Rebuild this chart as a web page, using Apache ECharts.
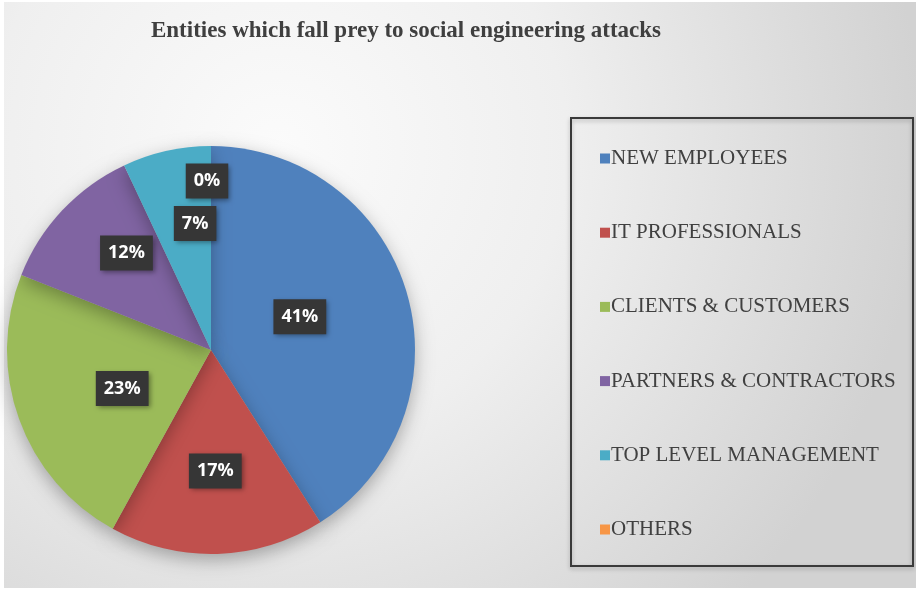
<!DOCTYPE html>
<html>
<head>
<meta charset="utf-8">
<script src="https://cdn.jsdelivr.net/npm/echarts@6/dist/echarts.min.js"></script>
<style>
html,body{margin:0;padding:0;background:#ffffff;}
#chart{width:916px;height:598px;}
</style>
</head>
<body>
<div id="chart"></div>
<script>
const titleText = 'Entities which fall prey to social engineering attacks';
const categories = ['NEW EMPLOYEES', 'IT PROFESSIONALS', 'CLIENTS & CUSTOMERS', 'PARTNERS & CONTRACTORS', 'TOP LEVEL MANAGEMENT', 'OTHERS'];
const values = [41, 17, 23, 12, 7, 0];
const colors = ['#4F81BD', '#C0504D', '#9BBB59', '#8064A2', '#4BACC6', '#F79646'];
// label nudges (layout only)
const labelOffsets = [[-12, -4], [1, 16], [10, 3], [-8, -25], [7, -24], [-4, -64]];

const chart = echarts.init(document.getElementById('chart'), null, {renderer: 'canvas'});
const option = {
  backgroundColor: '#ffffff',
  animation: false,
  graphic: [
    {
      type: 'rect', z: -10, silent: true,
      shape: {x: 4, y: 2, width: 912, height: 586},
      style: {
        fill: {
          type: 'radial', x: 0.3, y: 0.25, r: 1.1,
          colorStops: [{offset: 0, color: '#fbfbfb'}, {offset: 0.45, color: '#efefef'}, {offset: 1, color: '#d2d2d2'}]
        }
      }
    },
    {
      type: 'rect', z: 1, silent: true,
      shape: {x: 571, y: 118, width: 342, height: 448},
      style: {fill: 'transparent', stroke: '#3a3a3a', lineWidth: 2,
        shadowBlur: 4, shadowColor: 'rgba(0,0,0,0.25)', shadowOffsetY: 2}
    }
  ],
  title: {
    text: titleText,
    left: 401, top: 15, textAlign: 'center',
    textStyle: {fontFamily: 'Liberation Serif', fontWeight: 'bold', fontSize: 23, color: '#3f3f3f'}
  },
  legend: {
    orient: 'vertical',
    left: 595, top: 143,
    itemWidth: 10, itemHeight: 10, itemGap: 53.2,
    icon: 'rect',
    data: categories,
    textStyle: {fontFamily: 'Liberation Serif', fontSize: 21, color: '#404040', lineHeight: 20, padding: [0, 0, 0, -4]}
  },
  series: [{
    type: 'pie',
    center: [211, 350],
    radius: 204,
    startAngle: 90,
    clockwise: true,
    avoidLabelOverlap: false,
    stillShowZeroSum: true,
    minShowLabelAngle: 0,
    itemStyle: {shadowBlur: 18, shadowColor: 'rgba(0,0,0,0.3)', shadowOffsetY: 6},
    label: {
      show: true,
      position: 'inside',
      color: '#ffffff',
      fontFamily: 'Open Sans',
      fontWeight: 'bold',
      fontSize: 18,
      backgroundColor: '#363636',
      padding: [9, 8, 8, 8],
      shadowBlur: 5, shadowColor: 'rgba(0,0,0,0.4)', shadowOffsetX: 2, shadowOffsetY: 2
    },
    labelLine: {show: false},
    emphasis: {disabled: true},
    data: categories.map((c, i) => ({
      name: c, value: values[i],
      itemStyle: {color: colors[i]},
      label: {offset: labelOffsets[i], formatter: values[i] + '%'}
    }))
  }]
};
chart.setOption(option);
</script>
</body>
</html>
